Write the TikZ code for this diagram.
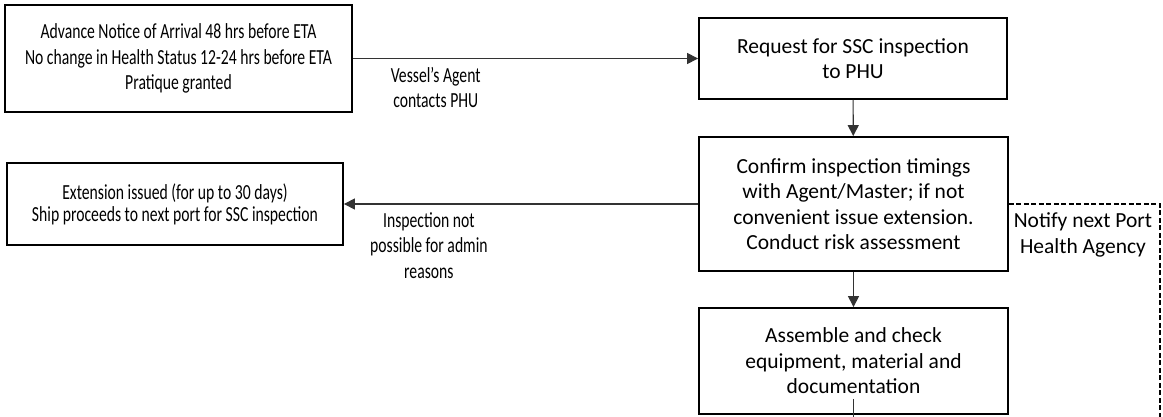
\documentclass[tikz,border=0pt]{standalone}
\usepackage{fontspec}
\setmainfont{Carlito}
\newfontfamily\narrowfont[FakeStretch=0.73]{Carlito}
\usetikzlibrary{arrows.meta,positioning}

\begin{document}
\begin{tikzpicture}[x=1pt, y=1pt,
		box/.style = {draw, line width=1.8pt, align=center, inner sep=0pt, font=\fontsize{21.5}{25.5}\selectfont},
		narrowbox/.style = {box, font=\narrowfont\fontsize{21.5}{25.5}\selectfont},
		line/.style = {draw=black!80, line width=1.1pt},
		arr/.style = {line, -{Triangle[length=11pt, width=11pt]}},
		lbl/.style = {align=center, inner sep=2pt, yshift=-6pt, font=\narrowfont\fontsize{21.5}{25.5}\selectfont}]
			\useasboundingbox (0,0) rectangle (1163,-417);
			% boxes
			\node[narrowbox, minimum width=347pt, minimum height=107pt] (arrival) at (178.5,-58.5)
				{Advance Notice of Arrival 48 hrs before ETA\\No change in Health Status 12-24 hrs before ETA\\Pratique granted};
			\node[box, minimum width=308pt, minimum height=81pt] (request) at (853,-58.5)
				{Request for SSC inspection\\to PHU};
			\node[box, minimum width=309pt, minimum height=134pt] (confirm) at (853.5,-204)
				{Confirm inspection timings\\with Agent/Master; if not\\convenient issue extension.\\Conduct risk assessment};
			\node[box, minimum width=309pt, minimum height=106pt] (assemble) at (853.5,-361)
				{Assemble and check\\equipment, material and\\documentation};
			\node[narrowbox, minimum width=336pt, minimum height=82pt, font=\narrowfont\fontsize{21.5}{22}\selectfont] (extension) at (175,-204)
				{Extension issued (for up to 30 days)\\Ship proceeds to next port for SSC inspection};
			\coordinate (notifycorner) at (1160,-204);
			\coordinate (notifyend) at (1160,-417);
			\coordinate (assembleend) at (853.5,-417);
			% connectors
			\draw[arr] (arrival) -- node[lbl, below, pos=0.24] {Vessel’s Agent\\contacts PHU} (request);
			\draw[arr] (request) -- (confirm);
			\draw[arr] (confirm) -- (assemble);
			\draw[arr] (confirm) -- node[lbl, below, pos=0.76] {Inspection not\\possible for admin\\reasons} (extension);
			\draw[line, draw=black, line width=2pt, dash pattern=on 5pt off 2.5pt] (confirm.east) -- node[lbl, below, pos=0.49, font=\fontsize{21.5}{25.5}\selectfont] {Notify next Port\\Health Agency} (notifycorner) -- (notifyend);
			\draw[line] ([yshift=16pt]assemble.south) -- (assembleend);
		\end{tikzpicture}
\end{document}
